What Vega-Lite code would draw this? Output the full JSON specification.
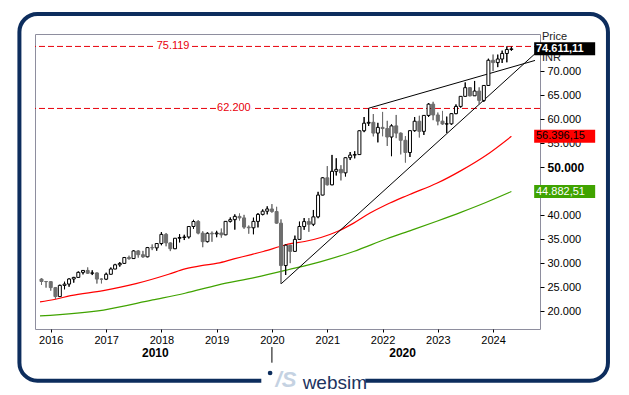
{
"$schema": "https://vega.github.io/schema/vega-lite/v6.json",
"width": 505,
"height": 295,
"autosize": {"type": "none"},
"padding": {"left": 35, "top": 34, "right": 89, "bottom": 66},
"background": "#ffffff",
"config": {
  "font": "Liberation Sans",
  "locale": {"number": {"decimal": ",", "thousands": ".", "grouping": [3], "currency": ["", ""]}},
  "view": {"stroke": "#8e8e9e", "strokeWidth": 1, "fill": "#ffffff"}
},
"resolve": {"axis": {"x": "independent", "y": "independent"}},
"datasets": {
  "ohlc": [
{"d":"2015-11-01","o":26657,"h":26824,"l":25451,"c":26146},
{"d":"2015-12-01","o":26146,"h":26256,"l":24867,"c":26118},
{"d":"2016-01-01","o":26118,"h":26197,"l":24241,"c":24871},
{"d":"2016-02-01","o":24871,"h":25002,"l":22495,"c":23002},
{"d":"2016-03-01","o":23002,"h":25479,"l":22995,"c":25342},
{"d":"2016-04-01","o":25342,"h":26100,"l":24523,"c":25607},
{"d":"2016-05-01","o":25607,"h":26837,"l":25057,"c":26668},
{"d":"2016-06-01","o":26668,"h":27105,"l":25911,"c":26999},
{"d":"2016-07-01","o":26999,"h":28240,"l":26973,"c":28052},
{"d":"2016-08-01","o":28052,"h":28532,"l":27628,"c":28452},
{"d":"2016-09-01","o":28452,"h":29077,"l":27716,"c":27866},
{"d":"2016-10-01","o":27866,"h":28478,"l":27488,"c":27930},
{"d":"2016-11-01","o":27930,"h":28029,"l":25717,"c":26653},
{"d":"2016-12-01","o":26653,"h":26804,"l":25754,"c":26626},
{"d":"2017-01-01","o":26626,"h":27980,"l":26447,"c":27656},
{"d":"2017-02-01","o":27656,"h":29065,"l":27590,"c":28743},
{"d":"2017-03-01","o":28743,"h":29824,"l":28716,"c":29621},
{"d":"2017-04-01","o":29621,"h":30184,"l":29241,"c":29918},
{"d":"2017-05-01","o":29918,"h":31255,"l":29804,"c":31146},
{"d":"2017-06-01","o":31146,"h":31523,"l":30681,"c":30922},
{"d":"2017-07-01","o":30922,"h":32672,"l":30900,"c":32515},
{"d":"2017-08-01","o":32515,"h":32686,"l":31128,"c":31730},
{"d":"2017-09-01","o":31730,"h":32524,"l":31081,"c":31284},
{"d":"2017-10-01","o":31284,"h":33340,"l":31200,"c":33213},
{"d":"2017-11-01","o":33213,"h":33865,"l":32683,"c":33149},
{"d":"2017-12-01","o":33149,"h":34138,"l":32565,"c":34057},
{"d":"2018-01-01","o":34057,"h":36444,"l":33703,"c":35965},
{"d":"2018-02-01","o":35965,"h":36256,"l":33482,"c":34184},
{"d":"2018-03-01","o":34184,"h":34278,"l":32483,"c":32969},
{"d":"2018-04-01","o":32969,"h":35213,"l":32900,"c":35160},
{"d":"2018-05-01","o":35160,"h":35994,"l":34302,"c":35322},
{"d":"2018-06-01","o":35322,"h":35877,"l":34785,"c":35423},
{"d":"2018-07-01","o":35423,"h":37645,"l":35106,"c":37607},
{"d":"2018-08-01","o":37607,"h":38990,"l":37128,"c":38645},
{"d":"2018-09-01","o":38645,"h":38934,"l":35985,"c":36227},
{"d":"2018-10-01","o":36227,"h":36616,"l":33292,"c":34442},
{"d":"2018-11-01","o":34442,"h":36389,"l":34303,"c":36194},
{"d":"2018-12-01","o":36194,"h":36555,"l":34426,"c":36068},
{"d":"2019-01-01","o":36068,"h":36702,"l":35375,"c":36257},
{"d":"2019-02-01","o":36257,"h":37172,"l":35287,"c":35867},
{"d":"2019-03-01","o":35867,"h":38748,"l":35800,"c":38673},
{"d":"2019-04-01","o":38673,"h":39487,"l":38460,"c":39032},
{"d":"2019-05-01","o":39032,"h":40125,"l":36956,"c":39714},
{"d":"2019-06-01","o":39714,"h":40312,"l":38871,"c":39395},
{"d":"2019-07-01","o":39395,"h":40032,"l":37128,"c":37481},
{"d":"2019-08-01","o":37481,"h":37808,"l":36102,"c":37333},
{"d":"2019-09-01","o":37333,"h":39441,"l":35988,"c":38667},
{"d":"2019-10-01","o":38667,"h":40393,"l":37416,"c":40129},
{"d":"2019-11-01","o":40129,"h":41164,"l":39937,"c":40794},
{"d":"2019-12-01","o":40794,"h":41810,"l":40135,"c":41254},
{"d":"2020-01-01","o":41254,"h":42274,"l":40476,"c":40723},
{"d":"2020-02-01","o":40723,"h":41709,"l":38220,"c":38297},
{"d":"2020-03-01","o":38297,"h":39084,"l":25639,"c":29468},
{"d":"2020-04-01","o":29468,"h":33888,"l":27500,"c":33717},
{"d":"2020-05-01","o":33717,"h":33800,"l":29969,"c":32424},
{"d":"2020-06-01","o":32424,"h":35706,"l":32349,"c":34916},
{"d":"2020-07-01","o":34916,"h":38618,"l":34900,"c":37607},
{"d":"2020-08-01","o":37607,"h":39360,"l":36912,"c":38628},
{"d":"2020-09-01","o":38628,"h":39360,"l":36496,"c":38068},
{"d":"2020-10-01","o":38068,"h":41048,"l":37700,"c":39614},
{"d":"2020-11-01","o":39614,"h":44826,"l":39334,"c":44150},
{"d":"2020-12-01","o":44150,"h":47897,"l":44118,"c":47751},
{"d":"2021-01-01","o":47751,"h":50184,"l":46160,"c":46286},
{"d":"2021-02-01","o":46286,"h":52517,"l":46200,"c":49100},
{"d":"2021-03-01","o":49100,"h":51822,"l":48236,"c":49509},
{"d":"2021-04-01","o":49509,"h":50375,"l":47204,"c":48782},
{"d":"2021-05-01","o":48782,"h":52013,"l":48028,"c":51937},
{"d":"2021-06-01","o":51937,"h":53126,"l":51451,"c":52483},
{"d":"2021-07-01","o":52483,"h":53290,"l":51802,"c":52587},
{"d":"2021-08-01","o":52587,"h":57625,"l":52500,"c":57552},
{"d":"2021-09-01","o":57552,"h":60413,"l":57263,"c":59126},
{"d":"2021-10-01","o":59126,"h":62245,"l":58551,"c":59307},
{"d":"2021-11-01","o":59307,"h":61036,"l":56382,"c":57065},
{"d":"2021-12-01","o":57065,"h":59203,"l":55132,"c":58254},
{"d":"2022-01-01","o":58254,"h":61475,"l":56409,"c":58014},
{"d":"2022-02-01","o":58014,"h":59619,"l":54383,"c":56247},
{"d":"2022-03-01","o":56247,"h":58890,"l":52260,"c":58569},
{"d":"2022-04-01","o":58569,"h":60845,"l":56009,"c":57061},
{"d":"2022-05-01","o":57061,"h":57184,"l":52632,"c":55566},
{"d":"2022-06-01","o":55566,"h":56432,"l":50921,"c":53019},
{"d":"2022-07-01","o":53019,"h":57620,"l":52094,"c":57570},
{"d":"2022-08-01","o":57570,"h":60411,"l":57367,"c":59537},
{"d":"2022-09-01","o":59537,"h":60676,"l":56147,"c":57427},
{"d":"2022-10-01","o":57427,"h":60786,"l":56683,"c":60747},
{"d":"2022-11-01","o":60747,"h":63303,"l":60425,"c":63100},
{"d":"2022-12-01","o":63100,"h":63583,"l":59754,"c":60841},
{"d":"2023-01-01","o":60841,"h":61343,"l":58699,"c":59550},
{"d":"2023-02-01","o":59550,"h":61682,"l":58795,"c":58962},
{"d":"2023-03-01","o":58962,"h":60498,"l":57085,"c":58992},
{"d":"2023-04-01","o":58992,"h":61209,"l":58793,"c":61112},
{"d":"2023-05-01","o":61112,"h":63036,"l":61002,"c":62622},
{"d":"2023-06-01","o":62622,"h":64768,"l":62359,"c":64719},
{"d":"2023-07-01","o":64719,"h":67620,"l":64700,"c":66528},
{"d":"2023-08-01","o":66528,"h":66659,"l":64723,"c":64831},
{"d":"2023-09-01","o":64831,"h":67927,"l":64818,"c":65828},
{"d":"2023-10-01","o":65828,"h":66593,"l":63092,"c":63875},
{"d":"2023-11-01","o":63875,"h":67069,"l":63550,"c":66988},
{"d":"2023-12-01","o":66988,"h":72562,"l":66900,"c":72240},
{"d":"2024-01-01","o":72240,"h":73428,"l":70002,"c":71752},
{"d":"2024-02-01","o":71752,"h":73414,"l":70809,"c":72500},
{"d":"2024-03-01","o":72500,"h":74245,"l":71674,"c":73651},
{"d":"2024-04-01","o":73651,"h":75124,"l":71816,"c":74483},
{"d":"2024-05-01","o":74483,"h":75095,"l":74215,"c":74611}
  ],
  "ma": [
{"s":"MA red","d":"2015-10-22","v":21900},
{"s":"MA red","d":"2016-01-24","v":22400},
{"s":"MA red","d":"2016-05-11","v":23200},
{"s":"MA red","d":"2016-12-13","v":24250},
{"s":"MA red","d":"2017-07-17","v":25700},
{"s":"MA red","d":"2018-02-18","v":27660},
{"s":"MA red","d":"2018-06-06","v":28770},
{"s":"MA red","d":"2018-09-22","v":29470},
{"s":"MA red","d":"2019-01-07","v":29960},
{"s":"MA red","d":"2019-04-25","v":30860},
{"s":"MA red","d":"2019-08-11","v":31700},
{"s":"MA red","d":"2019-11-05","v":32400},
{"s":"MA red","d":"2020-02-23","v":33440},
{"s":"MA red","d":"2020-04-17","v":33930},
{"s":"MA red","d":"2020-08-04","v":34480},
{"s":"MA red","d":"2020-11-20","v":35320},
{"s":"MA red","d":"2021-03-08","v":36570},
{"s":"MA red","d":"2021-06-24","v":38310},
{"s":"MA red","d":"2021-10-10","v":40400},
{"s":"MA red","d":"2022-01-25","v":42140},
{"s":"MA red","d":"2022-05-14","v":43670},
{"s":"MA red","d":"2022-07-17","v":44510},
{"s":"MA red","d":"2022-12-25","v":46600},
{"s":"MA red","d":"2023-06-06","v":49300},
{"s":"MA red","d":"2023-11-14","v":52400},
{"s":"MA red","d":"2024-05-01","v":56396.15},
{"s":"MA green","d":"2015-10-22","v":19000},
{"s":"MA green","d":"2016-12-15","v":20200},
{"s":"MA green","d":"2017-11-04","v":22300},
{"s":"MA green","d":"2018-06-06","v":23700},
{"s":"MA green","d":"2019-01-07","v":25400},
{"s":"MA green","d":"2019-09-14","v":27000},
{"s":"MA green","d":"2020-04-17","v":28600},
{"s":"MA green","d":"2020-11-20","v":30300},
{"s":"MA green","d":"2021-06-24","v":32400},
{"s":"MA green","d":"2022-01-25","v":35000},
{"s":"MA green","d":"2022-07-17","v":36900},
{"s":"MA green","d":"2022-12-25","v":38700},
{"s":"MA green","d":"2023-06-06","v":40600},
{"s":"MA green","d":"2023-11-14","v":42600},
{"s":"MA green","d":"2024-05-01","v":44882.51}
  ],
  "levels": [{"level": 75119}, {"level": 62200}],
  "trend": [
{"line":"upper","d":"2021-10-01","v":62245},
{"line":"upper","d":"2024-10-04","v":72200},
{"line":"lower","d":"2020-03-01","v":25639},
{"line":"lower","d":"2024-10-04","v":73600}
  ],
  "tags": [
{"s":"Price","v":74611.11},
{"s":"MA red","v":56396.15},
{"s":"MA green","v":44882.51}
  ]
},
"layer": [
  {
    "data": {"name": "ohlc"},
    "mark": {"type": "rule", "strokeWidth": 1},
    "encoding": {
      "x": {
        "field": "d", "type": "temporal",
        "scale": {"domain": [{"year": 2015, "month": 10, "date": 22}, {"year": 2024, "month": 10, "date": 4}], "nice": false},
        "axis": {
          "orient": "bottom", "title": null, "domain": false, "grid": false, "format": "%Y", "formatType": "time",
          "values": [{"year": 2016, "month": 1, "date": 1}, {"year": 2017, "month": 1, "date": 1}, {"year": 2018, "month": 1, "date": 1}, {"year": 2019, "month": 1, "date": 1}, {"year": 2020, "month": 1, "date": 1}, {"year": 2021, "month": 1, "date": 1}, {"year": 2022, "month": 1, "date": 1}, {"year": 2023, "month": 1, "date": 1}, {"year": 2024, "month": 1, "date": 1}],
          "tickSize": 3, "tickColor": "#000000", "labelColor": "#000000", "labelFontSize": 11, "labelFont": "Liberation Sans",
          "labelPadding": 2, "labelFlush": false, "labelOverlap": false
        }
      },
      "y": {
        "field": "l", "type": "quantitative",
        "scale": {"domain": [16250, 77710], "nice": false, "zero": false},
        "axis": {
          "orient": "right", "title": null, "domain": false, "grid": false, "format": ",.0f",
          "values": [20000, 25000, 30000, 35000, 40000, 50000, 55000, 60000, 65000, 70000],
          "tickSize": 4, "tickColor": "#000000", "labelColor": "#000000", "labelFont": "Liberation Sans",
          "labelFontSize": {"condition": {"test": "datum.value == 50000", "value": 12}, "value": 11},
          "labelFontWeight": {"condition": {"test": "datum.value == 50000", "value": "bold"}, "value": "normal"},
          "labelPadding": 3, "labelOverlap": false
        }
      },
      "y2": {"field": "h"},
      "stroke": {"condition": {"test": "datum.c >= datum.o", "value": "#000000"}, "value": "#6e6e6e"}
    }
  },
  {
    "data": {"values": [{}]},
    "mark": {"type": "rect", "fill": "transparent", "stroke": "#0d2d5d", "strokeWidth": 4, "cornerRadius": 18},
    "encoding": {
      "x": {"datum": {"year": 2015, "month": 6, "date": 8}, "type": "temporal", "axis": null},
      "x2": {"datum": {"year": 2026, "month": 1, "date": 29}},
      "y": {"datum": 81875, "type": "quantitative", "axis": null},
      "y2": {"datum": 5480}
    }
  },
  {
    "data": {"values": [{}]},
    "mark": {"type": "rect", "fill": "#ffffff", "strokeWidth": 0},
    "encoding": {
      "x": {"datum": {"year": 2019, "month": 10, "date": 23}, "type": "temporal", "axis": null},
      "x2": {"datum": {"year": 2021, "month": 9, "date": 9}},
      "y": {"datum": 6900, "type": "quantitative", "axis": null},
      "y2": {"datum": 4200}
    }
  },
  {
    "data": {"values": [{}]},
    "mark": {"type": "point", "filled": true, "size": 22, "color": "#0d2d5d", "opacity": 1},
    "encoding": {
      "x": {"datum": {"year": 2019, "month": 12, "date": 20}, "type": "temporal", "axis": null},
      "y": {"datum": 7083, "type": "quantitative", "axis": null}
    }
  },
  {
    "data": {"values": [{}]},
    "mark": {"type": "text", "text": "/S", "fontSize": 22, "fontStyle": "italic", "fontWeight": "bold", "color": "#c5d2e2", "align": "center"},
    "encoding": {
      "x": {"datum": {"year": 2020, "month": 4, "date": 3}, "type": "temporal", "axis": null},
      "y": {"datum": 5625, "type": "quantitative", "axis": null}
    }
  },
  {
    "data": {"values": [{}]},
    "mark": {"type": "text", "text": "websim", "fontSize": 19, "color": "#1b3360", "align": "left", "baseline": "alphabetic"},
    "encoding": {
      "x": {"datum": {"year": 2020, "month": 7, "date": 22}, "type": "temporal", "axis": null},
      "y": {"datum": 3750, "type": "quantitative", "axis": null}
    }
  },
  {
    "data": {"name": "levels"},
    "mark": {"type": "rule", "color": "#e8000b", "strokeWidth": 1, "strokeDash": [6, 3]},
    "encoding": {
      "y": {"field": "level", "type": "quantitative", "axis": null}
    }
  },
  {
    "data": {"name": "levels"},
    "transform": [{"filter": "datum.level == 75119"}],
    "encoding": {
      "x": {"datum": {"year": 2018, "month": 3, "date": 19}, "type": "temporal", "axis": null},
      "y": {"field": "level", "type": "quantitative", "axis": null}
    },
    "layer": [
      {"mark": {"type": "tick", "orient": "horizontal", "size": 36, "thickness": 9, "color": "#ffffff", "opacity": 1}},
      {"mark": {"type": "text", "color": "#e8000b", "fontSize": 11}, "encoding": {"text": {"field": "level", "type": "quantitative", "format": ",.0f"}}}
    ]
  },
  {
    "data": {"name": "levels"},
    "transform": [{"filter": "datum.level == 62200"}],
    "encoding": {
      "x": {"datum": {"year": 2019, "month": 4, "date": 25}, "type": "temporal", "axis": null},
      "y": {"field": "level", "type": "quantitative", "axis": null}
    },
    "layer": [
      {"mark": {"type": "tick", "orient": "horizontal", "size": 36, "thickness": 9, "color": "#ffffff", "opacity": 1}},
      {"mark": {"type": "text", "color": "#e8000b", "fontSize": 11}, "encoding": {"text": {"field": "level", "type": "quantitative", "format": ",.0f"}}}
    ]
  },
  {
    "data": {"name": "ma"},
    "mark": {"type": "line", "strokeWidth": 1.2, "interpolate": "monotone"},
    "encoding": {
      "x": {"field": "d", "type": "temporal", "axis": null},
      "y": {"field": "v", "type": "quantitative", "axis": null},
      "color": {"field": "s", "type": "nominal", "legend": null, "scale": {"domain": ["Price", "MA red", "MA green"], "range": ["#000000", "#ff0000", "#40a300"]}}
    }
  },
  {
    "data": {"name": "trend"},
    "mark": {"type": "line", "color": "#000000", "strokeWidth": 1},
    "encoding": {
      "x": {"field": "d", "type": "temporal", "axis": null},
      "y": {"field": "v", "type": "quantitative", "axis": null},
      "detail": {"field": "line", "type": "nominal"}
    }
  },
  {
    "data": {"name": "ohlc"},
    "mark": {"type": "rule", "strokeWidth": 1},
    "encoding": {
      "x": {"field": "d", "type": "temporal", "axis": null},
      "y": {"field": "l", "type": "quantitative", "axis": null},
      "y2": {"field": "h"},
      "stroke": {"condition": {"test": "datum.c >= datum.o", "value": "#000000"}, "value": "#6e6e6e"}
    }
  },
  {
    "data": {"name": "ohlc"},
    "mark": {"type": "bar", "width": 3, "strokeWidth": 1},
    "encoding": {
      "x": {"field": "d", "type": "temporal", "axis": null},
      "y": {"field": "o", "type": "quantitative", "axis": null},
      "y2": {"field": "c"},
      "fill": {"condition": {"test": "datum.c >= datum.o", "value": "#ffffff"}, "value": "#6e6e6e"},
      "stroke": {"condition": {"test": "datum.c >= datum.o", "value": "#000000"}, "value": "#6e6e6e"}
    }
  },
  {
    "data": {"values": [{}]},
    "mark": {"type": "text", "text": "Price", "fontSize": 11, "color": "#222222", "align": "left", "dx": 7},
    "encoding": {
      "x": {"datum": {"year": 2024, "month": 10, "date": 4}, "type": "temporal", "axis": null},
      "y": {"datum": 77100, "type": "quantitative", "axis": null}
    }
  },
  {
    "data": {"values": [{}]},
    "mark": {"type": "text", "text": "INR", "fontSize": 11, "color": "#222222", "align": "left", "dx": 7},
    "encoding": {
      "x": {"datum": {"year": 2024, "month": 10, "date": 4}, "type": "temporal", "axis": null},
      "y": {"datum": 72708, "type": "quantitative", "axis": null}
    }
  },
  {
    "data": {"name": "tags"},
    "mark": {"type": "tick", "orient": "horizontal", "size": 61, "thickness": 13, "opacity": 1},
    "encoding": {
      "x": {"datum": {"year": 2025, "month": 4, "date": 18}, "type": "temporal", "axis": null},
      "y": {"field": "v", "type": "quantitative", "axis": null},
      "color": {"field": "s", "type": "nominal", "legend": null}
    }
  },
  {
    "data": {"name": "tags"},
    "transform": [{"filter": "datum.s != 'Price'"}],
    "mark": {"type": "text", "fontSize": 11, "align": "left", "dx": 1},
    "encoding": {
      "x": {"datum": {"year": 2024, "month": 10, "date": 4}, "type": "temporal", "axis": null},
      "y": {"field": "v", "type": "quantitative", "axis": null},
      "text": {"field": "v", "type": "quantitative", "format": ",.2f"},
      "color": {"condition": {"test": "datum.s == 'MA red'", "value": "#000000"}, "value": "#ffffff"}
    }
  },
  {
    "data": {"name": "tags"},
    "transform": [{"filter": "datum.s == 'Price'"}],
    "mark": {"type": "text", "fontSize": 11, "fontWeight": "bold", "align": "left", "dx": 1, "color": "#ffffff"},
    "encoding": {
      "x": {"datum": {"year": 2024, "month": 10, "date": 4}, "type": "temporal", "axis": null},
      "y": {"field": "v", "type": "quantitative", "axis": null},
      "text": {"field": "v", "type": "quantitative", "format": ",.2f"}
    }
  },
  {
    "data": {"values": [{}]},
    "mark": {"type": "text", "text": "2010", "fontSize": 12, "fontWeight": "bold", "color": "#000000"},
    "encoding": {
      "x": {"datum": {"year": 2017, "month": 11, "date": 22}, "type": "temporal", "axis": null},
      "y": {"datum": 11250, "type": "quantitative", "axis": null}
    }
  },
  {
    "data": {"values": [{}]},
    "mark": {"type": "text", "text": "2020", "fontSize": 12, "fontWeight": "bold", "color": "#000000"},
    "encoding": {
      "x": {"datum": {"year": 2022, "month": 5, "date": 13}, "type": "temporal", "axis": null},
      "y": {"datum": 11250, "type": "quantitative", "axis": null}
    }
  },
  {
    "data": {"values": [{}]},
    "mark": {"type": "rule", "color": "#000000", "strokeWidth": 1},
    "encoding": {
      "x": {"datum": {"year": 2020, "month": 1, "date": 1}, "type": "temporal", "axis": null},
      "y": {"datum": 12500, "type": "quantitative", "axis": null},
      "y2": {"datum": 9230}
    }
  }
]
}
